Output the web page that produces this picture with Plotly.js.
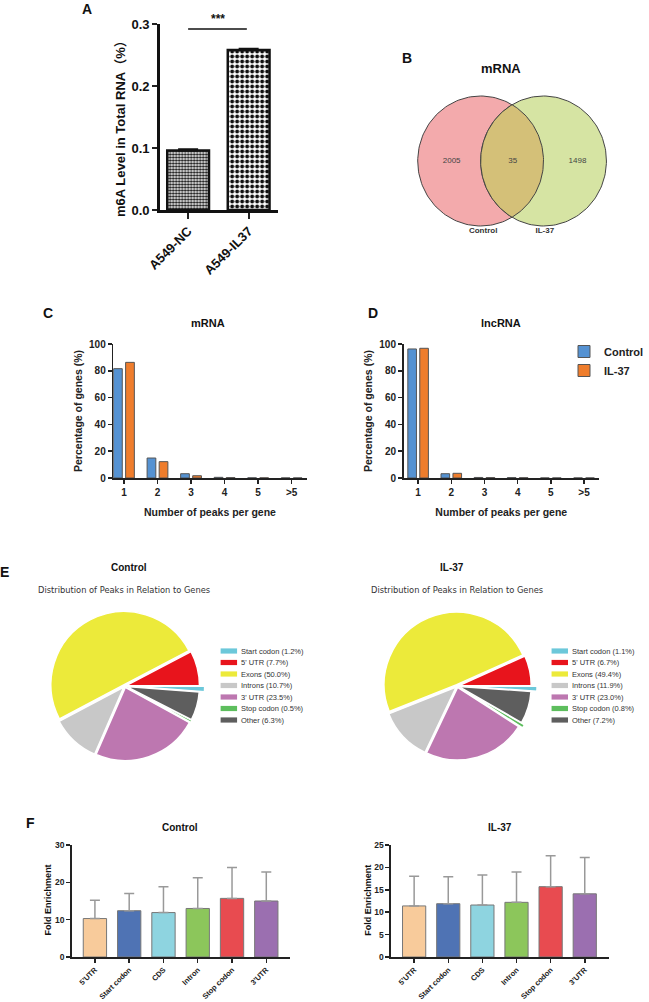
<!DOCTYPE html>
<html><head><meta charset="utf-8">
<script src="https://cdn.plot.ly/plotly-3.0.1.min.js"></script>
<style>body{margin:0;background:#fff}#chart{width:649px;height:1002px}</style>
</head><body><div id="chart"></div>
<script>
// ---------- DATA ----------
// Panel A
const aGroups = ['A549-NC', 'A549-IL37'];
const aValues = [0.096, 0.258];
const aErrors = [0.002, 0.002];
// Panel B (Venn, mRNA)
const vennSets = ['Control', 'IL-37'];
const vennCounts = [2005, 35, 1498]; // control only, shared, IL-37 only
// Panels C / D
const peakBins = ['1', '2', '3', '4', '5', '>5'];
const mrnaControl = [81.6, 14.9, 3.2, 0.5, 0.1, 0.05];
const mrnaIL37 = [86.3, 12.2, 1.7, 0.3, 0.1, 0.05];
const lncControl = [96.3, 3.2, 0.4, 0.3, 0.05, 0.05];
const lncIL37 = [96.8, 3.5, 0.3, 0.2, 0.05, 0.05];
// Panel E
const regionNames = ['Start codon', "5' UTR", 'Exons', 'Introns', "3' UTR", 'Stop codon', 'Other'];
const pieControl = [1.2, 7.7, 50.0, 10.7, 23.5, 0.5, 6.3];
const pieIL37 = [1.1, 6.7, 49.4, 11.9, 23.0, 0.8, 7.2];
// Panel F
const enrichRegions = ["5'UTR", 'Start codon', 'CDS', 'Intron', 'Stop codon', "3'UTR"];
const enrichControl = [10.3, 12.4, 11.9, 13.0, 15.7, 15.0];
const enrichControlErr = [4.9, 4.6, 6.9, 8.2, 8.3, 7.8];
const enrichIL37 = [11.4, 11.9, 11.6, 12.2, 15.7, 14.1];
const enrichIL37Err = [6.6, 6.0, 6.7, 6.8, 6.9, 8.1];

// ---------- STYLE / LAYOUT ----------
const W = 649, H = 1002;
const px = x => x / W, py = y => 1 - y / H;
const FONT = "Arial, 'Liberation Sans', 'Noto Sans CJK SC', sans-serif";
const BLUE = '#5592d2', ORANGE = '#ef7d2c';
const pieColors = ['#6cc8da', '#e8141c', '#ecea3a', '#c8c8c8', '#bd77b0', '#5dbe5d', '#5e5e5e'];
const enrichColors = ['#f8cb9b', '#4f73b4', '#8ed4e0', '#8cc65b', '#e84b50', '#9b6fb0'];

const traces = [];
// A
traces.push({
  type: 'bar', x: aGroups, y: aValues, xaxis: 'x', yaxis: 'y', width: 0.69,
  marker: { color: '#fff', line: { color: '#111', width: 2.5 },
    pattern: { shape: '.', fgcolor: '#111', bgcolor: '#fff', size: [3, 5], solidity: 0.5 } },
  error_y: { type: 'data', symmetric: false, array: aErrors, arrayminus: [0, 0], color: '#111', thickness: 2, width: 10 },
  showlegend: false, hoverinfo: 'skip'
});

// B Venn geometry (unit circles, centres 1 apart)
function circle(cx, n) {
  const xs = [], ys = [];
  for (let i = 0; i <= n; i++) { const t = 2 * Math.PI * i / n; xs.push(cx + Math.cos(t)); ys.push(Math.sin(t)); }
  return [xs, ys];
}
function lens(n) {
  const xs = [], ys = [];
  for (let i = 0; i <= n; i++) { const t = -Math.PI / 3 + (2 * Math.PI / 3) * i / n; xs.push(-0.5 + Math.cos(t)); ys.push(Math.sin(t)); }
  for (let i = 0; i <= n; i++) { const t = 2 * Math.PI / 3 + (2 * Math.PI / 3) * i / n; xs.push(0.5 + Math.cos(t)); ys.push(Math.sin(t)); }
  return [xs, ys];
}
const cL = circle(-0.5, 160), cR = circle(0.5, 160), ln = lens(80);
traces.push({ type: 'scatter', mode: 'lines', x: cL[0], y: cL[1], xaxis: 'x2', yaxis: 'y2', fill: 'toself', fillcolor: '#f3aaac', line: { color: '#444', width: 1 }, showlegend: false, hoverinfo: 'skip' });
traces.push({ type: 'scatter', mode: 'lines', x: cR[0], y: cR[1], xaxis: 'x2', yaxis: 'y2', fill: 'toself', fillcolor: '#d6e4a3', line: { color: '#444', width: 1 }, showlegend: false, hoverinfo: 'skip' });
traces.push({ type: 'scatter', mode: 'lines', x: ln[0], y: ln[1], xaxis: 'x2', yaxis: 'y2', fill: 'toself', fillcolor: '#d4c078', line: { color: '#444', width: 1 }, showlegend: false, hoverinfo: 'skip' });
traces.push({ type: 'scatter', mode: 'text', x: [-0.96, 0.01, 1.04], y: [0, 0, 0], text: vennCounts.map(String), xaxis: 'x2', yaxis: 'y2',
  textfont: { family: FONT, size: 8, color: '#444' }, showlegend: false, hoverinfo: 'skip' });
traces.push({ type: 'scatter', mode: 'text', x: [-0.46, 0.52], y: [-1.08, -1.08], text: vennSets, xaxis: 'x2', yaxis: 'y2',
  textfont: { family: FONT, size: 8, color: '#333', weight: 'bold' }, showlegend: false, hoverinfo: 'skip' });

// C / D
function peakBars(vals, color, ax, name, off, show) {
  return { type: 'bar', x: peakBins, y: vals, xaxis: 'x' + ax, yaxis: 'y' + ax, width: 0.26, offset: off, name: name,
    marker: { color: color, line: { color: '#555', width: 1 } }, showlegend: show, legendgroup: name, hoverinfo: 'skip' };
}
traces.push(peakBars(mrnaControl, BLUE, 3, 'Control', -0.31, false));
traces.push(peakBars(mrnaIL37, ORANGE, 3, 'IL-37', 0.05, false));
traces.push(peakBars(lncControl, BLUE, 4, 'Control', -0.31, true));
traces.push(peakBars(lncIL37, ORANGE, 4, 'IL-37', 0.05, true));

// E pies
function pie(vals, cx, cy, pulls) {
  const s = 165 / 2;
  return { type: 'pie', values: vals, labels: regionNames, sort: false, direction: 'counterclockwise', rotation: 90,
    textinfo: 'none', hoverinfo: 'skip', showlegend: false, pull: pulls,
    marker: { colors: pieColors, line: { color: '#fff', width: 1.5 } },
    domain: { x: [px(cx - s), px(cx + s)], y: [py(cy + s), py(cy - s)] } };
}
traces.push(pie(pieControl, 129, 686, [0.09, 0.02, 0.02, 0.02, 0.02, 0.03, 0.02]));
traces.push(pie(pieIL37, 472.5, 686, [0.1, 0.02, 0.02, 0.02, 0.02, 0.07, 0.02]));

// F
function enrichBars(vals, errs, ax) {
  return { type: 'bar', x: enrichRegions, y: vals, xaxis: 'x' + ax, yaxis: 'y' + ax, width: 0.68,
    marker: { color: enrichColors, line: { color: '#777', width: 1 } },
    error_y: { type: 'data', symmetric: false, array: errs, arrayminus: errs.map(() => 0), color: '#999', thickness: 1.5, width: 5 },
    showlegend: false, hoverinfo: 'skip' };
}
traces.push(enrichBars(enrichControl, enrichControlErr, 5));
traces.push(enrichBars(enrichIL37, enrichIL37Err, 6));

// Axes
function xAx(x0, x1, yAnchor, range, opts) {
  return Object.assign({ domain: [px(x0), px(x1)], anchor: yAnchor, type: 'category', range: range, showgrid: false, zeroline: false,
    showline: true, linecolor: '#222', linewidth: 1.5, ticks: 'outside', ticklen: 4, tickcolor: '#222', tickwidth: 1.5,
    tickfont: { family: FONT, size: 10, color: '#222', weight: 'bold' }, automargin: false, fixedrange: true }, opts || {});
}
function yAx(y0, y1, xAnchor, range, dtick, opts) {
  return Object.assign({ domain: [py(y0), py(y1)], anchor: xAnchor, range: range, dtick: dtick, showgrid: false, zeroline: false,
    showline: true, linecolor: '#222', linewidth: 1.5, ticks: 'outside', ticklen: 4, tickcolor: '#222', tickwidth: 1.5,
    tickfont: { family: FONT, size: 10, color: '#222', weight: 'bold' }, automargin: false, fixedrange: true }, opts || {});
}

const layout = {
  width: W, height: H, margin: { l: 0, r: 0, t: 0, b: 0 }, paper_bgcolor: '#fff', plot_bgcolor: 'rgba(0,0,0,0)',
  barmode: 'overlay', font: { family: FONT, color: '#222' },
  xaxis: xAx(165, 287, 'y', [-0.47, 1.48], { linewidth: 2.5, linecolor: '#111', tickwidth: 2, ticklen: 6, tickangle: -45,
    tickfont: { family: FONT, size: 13, color: '#111', weight: 'bold' } }),
  yaxis: yAx(210, 24, 'x', [0, 0.3], 0.1, { linewidth: 2.5, linecolor: '#111', tickwidth: 2, ticklen: 5, tickformat: '.1f',
    tickfont: { family: FONT, size: 13, color: '#111', weight: 'bold' } }),
  xaxis2: { domain: [px(419.2), px(639.2)], anchor: 'y2', range: [-1.692, 1.692], visible: false, fixedrange: true },
  yaxis2: { domain: [py(236), py(86)], anchor: 'x2', range: [-1.154, 1.154], visible: false, fixedrange: true },
  xaxis3: xAx(117, 317, 'y3', [-0.32, 5.45], { title: { text: 'Number of peaks per gene', standoff: 12, font: { family: FONT, size: 10.5, weight: 'bold', color: '#222' } } }),
  yaxis3: yAx(478, 344, 'x3', [0, 100], 20, { title: { text: 'Percentage of genes (%)', font: { family: FONT, size: 10.5, weight: 'bold', color: '#222' } } }),
  xaxis4: xAx(417, 619, 'y4', [-0.44, 5.45], { title: { text: 'Number of peaks per gene', standoff: 12, font: { family: FONT, size: 10.5, weight: 'bold', color: '#222' } } }),
  yaxis4: yAx(478, 344, 'x4', [0, 100], 20, { title: { text: 'Percentage of genes (%)', font: { family: FONT, size: 10.5, weight: 'bold', color: '#222' } } }),
  xaxis5: xAx(74, 300, 'y5', [-0.68, 5.7], { tickangle: -45, tickfont: { family: FONT, size: 7.5, weight: 'bold', color: '#222' } }),
  yaxis5: yAx(957, 845, 'x5', [0, 30], 10, { tickfont: { family: FONT, size: 8.5, weight: 'bold', color: '#222' } }),
  xaxis6: xAx(404, 629, 'y6', [-0.68, 5.7], { tickangle: -45, tickfont: { family: FONT, size: 7.5, weight: 'bold', color: '#222' } }),
  yaxis6: yAx(957, 845, 'x6', [0, 25], 5, { tickfont: { family: FONT, size: 8.5, weight: 'bold', color: '#222' } }),
  legend: { x: px(583), y: py(337), xanchor: 'left', yanchor: 'top', bgcolor: 'rgba(0,0,0,0)', tracegroupgap: 0,
    font: { family: FONT, size: 11, weight: 'bold', color: '#222' } },
  shapes: [
    { type: 'line', xref: 'x', yref: 'y', x0: 0.0, x1: 0.97, y0: 0.292, y1: 0.292, line: { color: '#111', width: 1.5 } }
  ],
  annotations: []
};

const ann = layout.annotations;
function txt(t, x, y, size, bold, extra) {
  ann.push(Object.assign({ text: t, x: px(x), y: py(y), xref: 'paper', yref: 'paper', showarrow: false, xanchor: 'center', yanchor: 'middle',
    font: { family: FONT, size: size, color: '#111', weight: bold ? 'bold' : 'normal' } }, extra || {}));
}
ann.push({ text: '***', x: 0.5, y: 0.292, xref: 'x', yref: 'y', yanchor: 'bottom', showarrow: false, yshift: 1,
  font: { family: FONT, size: 12, color: '#111', weight: 'bold' } });
txt('A', 90, 9, 14, true);
txt('m6A Level in Total RNA（%）', 125, 125, 13, true, { textangle: -90 });
txt('B', 421, 58, 14, true);
txt('mRNA', 518, 68, 13, true);
txt('C', 50, 313, 14, true);
txt('mRNA', 215, 323, 11, true);
txt('D', 385, 313, 14, true);
txt('lncRNA', 518, 323, 11, true);
txt('E', 5, 572, 14, true);
txt('Control', 133, 567, 10, true);
txt('Distribution of Peaks in Relation to Genes', 128, 590, 9, false, { font: { family: "'DejaVu Sans', sans-serif", size: 8.3, color: '#333' } });
txt('IL-37', 467, 567, 10, true);
txt('Distribution of Peaks in Relation to Genes', 472, 590, 9, false, { font: { family: "'DejaVu Sans', sans-serif", size: 8.3, color: '#333' } });
txt('F', 32, 823, 14, true);
txt('Control', 186, 827, 10, true);
txt('IL-37', 517, 827, 10, true);
txt('Fold Enrichment', 50, 900, 9, true, { textangle: -90 });
txt('Fold Enrichment', 380, 900, 9, true, { textangle: -90 });

// Pie legends (built from the data arrays)
function pieLegend(vals, bx, tx) {
  regionNames.forEach((n, i) => {
    const yc = 651 + i * 11.5;
    layout.shapes.push({ type: 'rect', xref: 'paper', yref: 'paper', x0: px(bx), x1: px(bx + 17), y0: py(yc + 2.6), y1: py(yc - 2.6),
      fillcolor: pieColors[i], line: { width: 0 } });
    ann.push({ text: n + ' (' + vals[i].toFixed(1) + '%)', x: px(tx), y: py(yc), xref: 'paper', yref: 'paper', showarrow: false,
      xanchor: 'left', yanchor: 'middle', font: { family: "'Liberation Sans Narrow', 'Arial Narrow', Arial, sans-serif", size: 7.5, color: '#333' } });
  });
}
pieLegend(pieControl, 228, 247);
pieLegend(pieIL37, 570, 589);

Plotly.newPlot('chart', traces, layout, { staticPlot: true, displayModeBar: false });
</script>
</body></html>
